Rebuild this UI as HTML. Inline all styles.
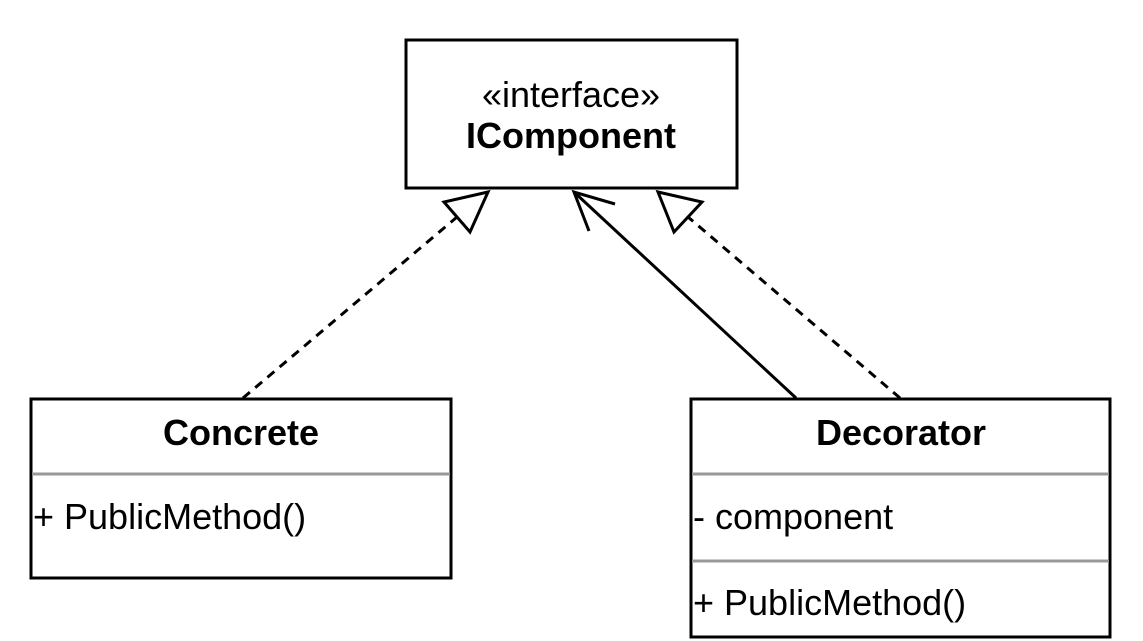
<!DOCTYPE html>
<html><head><meta charset="utf-8"><style>
html,body{margin:0;padding:0;background:#fff;}
svg{display:block;}
text{font-family:"Liberation Sans",Arial,sans-serif;font-size:36px;fill:#000;}
</style></head><body>
<svg width="1143" height="641" viewBox="0 0 1143 641">
<rect x="406" y="40" width="331" height="148" fill="#fff" stroke="#000" stroke-width="3"/>
<text x="571" y="107" text-anchor="middle">«interface»</text>
<text x="571" y="148" text-anchor="middle" font-weight="bold">IComponent</text>

<line x1="243" y1="398" x2="457" y2="217" stroke="#000" stroke-width="3" stroke-dasharray="9,7"/>
<polygon points="488,192 444,202 470,232" fill="#fff" stroke="#000" stroke-width="3"/>
<line x1="900" y1="398" x2="688" y2="217" stroke="#000" stroke-width="3" stroke-dasharray="9,7"/>
<polygon points="658,192 702,202 674,232" fill="#fff" stroke="#000" stroke-width="3"/>
<line x1="796" y1="398" x2="574" y2="192" stroke="#000" stroke-width="3"/>
<polyline points="615,204 574,192 589,231" fill="none" stroke="#000" stroke-width="3"/>

<rect x="31" y="399" width="420" height="179" fill="#fff" stroke="#000" stroke-width="3"/>
<line x1="32" y1="474" x2="450" y2="474" stroke="#999" stroke-width="3"/>
<text x="241" y="445" text-anchor="middle" font-weight="bold">Concrete</text>
<text x="33" y="529">+ PublicMethod()</text>

<rect x="691" y="399" width="419" height="238" fill="#fff" stroke="#000" stroke-width="3"/>
<line x1="692" y1="474" x2="1109" y2="474" stroke="#999" stroke-width="3"/>
<line x1="692" y1="561" x2="1109" y2="561" stroke="#999" stroke-width="3"/>
<text x="901" y="445" text-anchor="middle" font-weight="bold">Decorator</text>
<text x="693" y="529">- component</text>
<text x="693" y="615">+ PublicMethod()</text>
</svg>
</body></html>
